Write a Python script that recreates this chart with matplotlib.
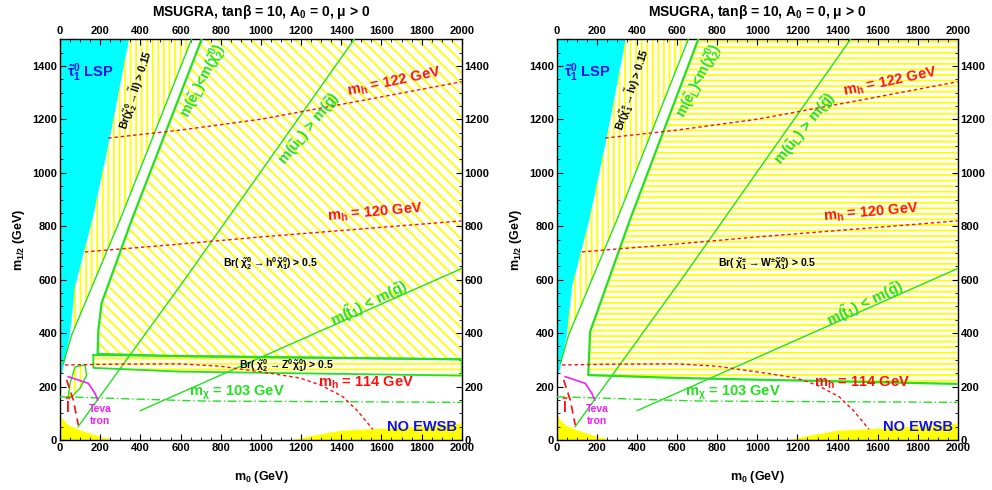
import matplotlib
matplotlib.use("Agg")
import matplotlib.pyplot as plt
from matplotlib.ticker import MultipleLocator

plt.rcParams['font.family'] = ['Liberation Sans', 'DejaVu Sans']
plt.rcParams['font.weight'] = 'bold'
plt.rcParams['axes.titleweight'] = 'bold'
plt.rcParams['axes.labelweight'] = 'bold'
plt.rcParams['mathtext.fontset'] = 'custom'
plt.rcParams['mathtext.rm'] = 'Liberation Sans:bold'
plt.rcParams['mathtext.it'] = 'Liberation Sans:bold'
plt.rcParams['mathtext.bf'] = 'Liberation Sans:bold'
plt.rcParams['mathtext.default'] = 'regular'
plt.rcParams['hatch.linewidth'] = 1.3

CYAN = '#00ffff'
YEL = '#ffff00'
GRN = '#22e022'
RED = '#ff1010'
MAG = '#ee22ee'
BLUE = '#1010ee'

# m0 ticks / m1/2 ticks
m0_ticks = list(range(0, 2001, 200))
m12_ticks = list(range(0, 1401, 200))

# stau LSP region
stau_m0 = [0, 10, 25, 50, 75, 161, 249, 343, 0]
stau_m12 = [240, 250, 300, 400, 574, 824, 1134, 1500, 1500]

# theoretically excluded (bottom left) and no EWSB (bottom right)
th_m0 = [0, 0, 20, 50, 100, 180, 260]
th_m12 = [0, 95, 72, 52, 37, 17, 0]
ewsb_m0 = [1160, 1250, 1400, 1600, 1800, 2000, 2000]
ewsb_m12 = [0, 15, 35, 42, 50, 62, 0]

# Br(-> slepton) > 0.15 wedge
sl_m0 = [50, 75, 161, 249, 343, 655, 299, 58]
sl_m12 = [400, 574, 824, 1134, 1500, 1500, 824, 393]

# thin boundary of slepton wedge
thin_m0 = [17, 58, 299, 655]
thin_m12 = [287, 393, 824, 1500]

# m(e_L) < m(chi2) boundary + main region, left panel (h0 decay)
hreg_m0 = [705, 357, 207, 191, 187, 600, 2000, 2000]
hreg_m12 = [1500, 824, 512, 412, 322, 314, 302, 1500]
# Z decay band, left panel
zb_m0 = [166, 600, 2000, 2000, 597, 166]
zb_m12 = [318, 314, 302, 241, 256, 270]
# main region, right panel (W decay)
wreg_m0 = [705, 364, 165, 156, 613, 2000, 2000]
wreg_m12 = [1500, 824, 405, 243, 232, 210, 1500]

# small hatched island, left panel
isl_m0 = [41, 50, 75, 124, 133, 100, 58]
isl_m12 = [162, 212, 274, 281, 243, 194, 162]

# m(u_L) > m(g) and m(t1) < m(g)
ul_m0 = [90, 620, 1465]
ul_m12 = [50, 600, 1500]
t1_m0 = [400, 2000]
t1_m12 = [110, 642]

# chargino mass 103 GeV
chi_m0 = [0, 300, 700, 2000]
chi_m12 = [162, 155, 146, 141]

# Higgs mass contours
mh114_m0 = [25, 300, 600, 800, 1045, 1194, 1300, 1408, 1480, 1557]
mh114_m12 = [281, 284, 285, 276, 250, 232, 205, 162, 110, 40]
mh120_m0 = [124, 500, 1000, 1500, 2000]
mh120_m12 = [704, 727, 760, 790, 820]
mh122_m0 = [240, 600, 995, 1500, 2000]
mh122_m12 = [1130, 1160, 1200, 1270, 1341]

# slepton LEP limit and Tevatron
slep_m0 = [33, 66, 91]
slep_m12 = [225, 150, 56]
teva_m0 = [41, 141, 174, 188]
teva_m12 = [237, 212, 175, 150]

title = r'MSUGRA, tan$\beta$ = 10, A$_0$ = 0, $\mu$ > 0'

fig = plt.figure(figsize=(9.92, 4.9), dpi=100)
ax1 = fig.add_axes([0.0605, 0.102, 0.405, 0.818])
ax2 = fig.add_axes([0.5615, 0.102, 0.404, 0.818])


def panel(ax, right):
    ax.set_xlim(0, 2000)
    ax.set_ylim(0, 1500)
    ax.fill(stau_m0, stau_m12, color=CYAN, lw=0, zorder=1)
    ax.fill(th_m0, th_m12, color=YEL, lw=0, zorder=1)
    ax.fill(ewsb_m0, ewsb_m12, color=YEL, lw=0, zorder=1)
    ax.fill(sl_m0, sl_m12, facecolor='none', edgecolor=YEL, hatch='|||', lw=0, zorder=1)
    if not right:
        ax.fill(hreg_m0, hreg_m12, facecolor='none', edgecolor=YEL, hatch='\\\\\\', lw=0, zorder=1)
        ax.fill(zb_m0, zb_m12, facecolor='none', edgecolor=YEL, hatch='---', lw=0, zorder=1)
        ax.plot(zb_m0 + zb_m0[:1], zb_m12 + zb_m12[:1], color=GRN, lw=1.3, zorder=3)
        ax.fill(isl_m0, isl_m12, facecolor='none', edgecolor=YEL, hatch='|||', lw=0, zorder=1)
        ax.plot(isl_m0 + isl_m0[:1], isl_m12 + isl_m12[:1], color=GRN, lw=1, zorder=3)
        ax.plot(hreg_m0[:7], hreg_m12[:7], color=GRN, lw=1.6, zorder=3)
    else:
        ax.fill(wreg_m0, wreg_m12, facecolor='none', edgecolor=YEL, hatch='---', lw=0, zorder=1)
        ax.plot(wreg_m0[:6], wreg_m12[:6], color=GRN, lw=1.6, zorder=3)

    ax.plot(thin_m0, thin_m12, color=GRN, lw=1, zorder=3)
    ax.plot(ul_m0, ul_m12, color=GRN, lw=1, zorder=3)
    ax.plot(t1_m0, t1_m12, color=GRN, lw=1, zorder=3)
    ax.plot(chi_m0, chi_m12, color=GRN, lw=1, ls=(0, (6, 2, 1, 2)), zorder=3)
    for xs, ys in [(mh114_m0, mh114_m12), (mh120_m0, mh120_m12), (mh122_m0, mh122_m12)]:
        ax.plot(xs, ys, color=RED, lw=1, ls=(0, (2.5, 2)), zorder=3)
    ax.plot(slep_m0, slep_m12, color=RED, lw=1.2, ls=(0, (5, 3)), zorder=3)
    ax.plot(teva_m0, teva_m12, color=MAG, lw=1.2, zorder=3)

    # labels
    ax.text(35, 1374, r'$\tilde{\tau}_1^0$ LSP', color=BLUE, fontsize=10.5, va='center')
    if right:
        br1 = r'Br($\tilde{\chi}_1^{\pm}\rightarrow\tilde{l}\nu$) > 0.15'
        br2 = r'Br( $\tilde{\chi}_1^{\pm}\rightarrow$W$^{\pm}\tilde{\chi}_1^0$) > 0.5'
    else:
        br1 = r'Br($\tilde{\chi}_2^0\rightarrow\tilde{l}l$) > 0.15'
        br2 = r'Br( $\tilde{\chi}_2^0\rightarrow$h$^0\tilde{\chi}_1^0$) > 0.5'
        ax.text(1129, 277, r'Br( $\tilde{\chi}_2^0\rightarrow$Z$^0\tilde{\chi}_1^0$) > 0.5',
                fontsize=7.5, ha='center', va='center', zorder=5)
    ax.text(378, 1310, br1, fontsize=7.5, rotation=72, ha='center', va='center', zorder=5)
    ax.text(1050, 661, br2, fontsize=7.5, ha='center', va='center', zorder=5)
    ax.text(712, 1344, r'm($\tilde{e}_L$)<m($\tilde{\chi}_2^0$)', color=GRN, fontsize=10,
            rotation=63, ha='center', va='center', zorder=5)
    ax.text(1239, 1164, r'm($\tilde{u}_L$) > m($\tilde{g}$)', color=GRN, fontsize=10.5,
            rotation=51, ha='center', va='center', zorder=5)
    ax.text(1535, 513, r'm($\tilde{t}_1$) < m($\tilde{g}$)', color=GRN, fontsize=10.5,
            rotation=26, ha='center', va='center', zorder=5)
    ax.text(1662, 1338, r'm$_h$ = 122 GeV', color=RED, fontsize=10.5, rotation=12,
            ha='center', va='center', zorder=5)
    ax.text(1567, 850, r'm$_h$ = 120 GeV', color=RED, fontsize=10.5, rotation=5,
            ha='center', va='center', zorder=5)
    ax.text(1522, 213, r'm$_h$ = 114 GeV', color=RED, fontsize=10.5,
            ha='center', va='center', zorder=5)
    ax.text(880, 175, r'm$_{\chi}$ = 103 GeV', color=GRN, fontsize=10.5,
            ha='center', va='center', zorder=5)
    ax.text(1801, 50, 'NO EWSB', color=BLUE, fontsize=10.5, ha='center', va='center', zorder=5)
    ax.text(40, 124, r'$\tilde{l}$', color=RED, fontsize=10, ha='center', va='center', zorder=5)
    ax.text(199, 94, 'Teva\ntron', color=MAG, fontsize=7.5, ha='center', va='center',
            linespacing=1.3, zorder=5)

    # axes
    ax.set_xticks(m0_ticks)
    ax.set_yticks(m12_ticks)
    ax.xaxis.set_minor_locator(MultipleLocator(50))
    ax.yaxis.set_minor_locator(MultipleLocator(50))
    ax.tick_params(which='both', direction='in', top=True, right=True,
                   labeltop=True, labelright=True, labelsize=8, pad=2)
    ax.tick_params(which='major', length=4)
    ax.tick_params(which='minor', length=2)
    for s in ax.spines.values():
        s.set_linewidth(1)
    ax.set_xlabel(r'm$_0$ (GeV)', fontsize=9, labelpad=12)
    ax.set_ylabel(r'm$_{1/2}$ (GeV)', fontsize=9, labelpad=4)
    ax.set_title(title, fontsize=10, pad=17)


panel(ax1, False)
panel(ax2, True)

fig.savefig('out.png', dpi=100)
